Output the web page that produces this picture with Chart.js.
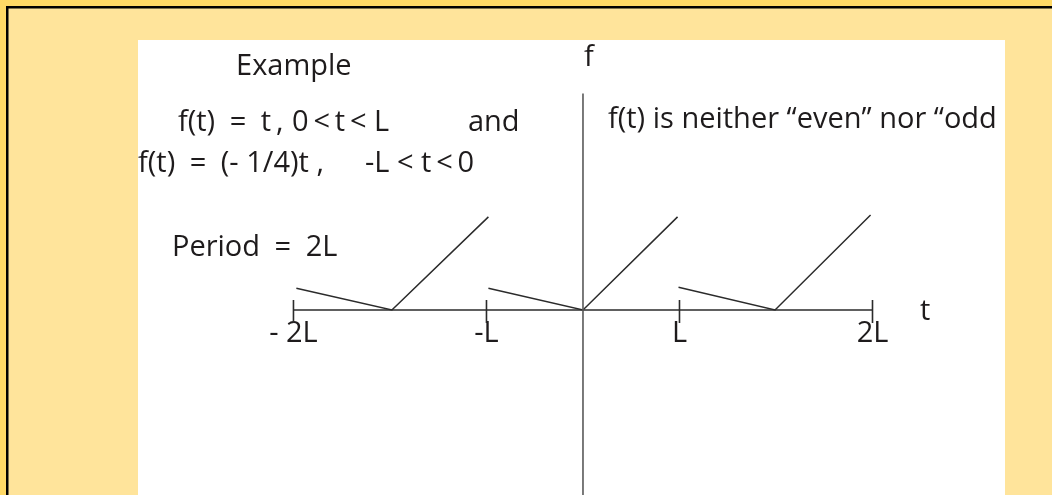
<!DOCTYPE html>
<html>
<head>
<meta charset="utf-8">
<script src="https://cdn.jsdelivr.net/npm/chart.js@4"></script>
<style>
  html, body { margin: 0; padding: 0; background: #ffe49b; }
  #wrap { width: 1052px; height: 495px; position: relative; }
</style>
</head>
<body>
<div id="wrap"><canvas id="chart"></canvas></div>
<script>
// x is in drawing units: the middle period runs -L..L = -1..1,
// the outer ticks (labelled +-2L in the picture) sit at +-3
const xTickValues = [-3, -1, 1, 3];
const xTickLabels = ['- 2L', '-L', 'L', '2L'];

// three copies of f(t), corners
const copyLeft   = [{x: -2.97, y: 0.23}, {x: -1.98, y: 0}, {x: -0.98, y: 0.98}];
const copyMiddle = [{x: -0.98, y: 0.23}, {x: 0, y: 0},     {x: 0.98, y: 0.98}];
const copyRight  = [{x: 0.99, y: 0.24},  {x: 1.99, y: 0},  {x: 2.98, y: 1.0}];

// axes
const tAxis = [{x: -3, y: 0}, {x: 3, y: 0}];
const fAxis = [{x: 0, y: 2.28}, {x: 0, y: -2.2}];

// text on the drawing (\u2002 = en space, \u2009 = thin space)
const notes = [
  {text: 'Example', x: -3.595, y: 2.474},
  {text: 'f(t)\u2002=\u2002t\u2009,', x: -4.197, y: 1.884},
  {text: '0\u2009<\u2009t\u2009< L', x: -3.015, y: 1.884},
  {text: 'and', x: -1.192, y: 1.884},
  {text: 'f(t)\u2002=\u2002(- 1/4)t ,', x: -4.611, y: 1.453},
  {text: '-L < t\u2009<\u20090', x: -2.26, y: 1.453},
  {text: 'Period\u2002=\u20022L', x: -4.259, y: 0.568},
  {text: 'f(t) is neither \u201ceven\u201d nor \u201codd', x: 0.259, y: 1.916},
  {text: 'f', x: 0.01, y: 2.568},
  {text: 't', x: 3.492, y: -0.105}
];

const INK = '#1e1b1c';
const FONT = '"Open Sans", "DejaVu Sans", sans-serif';
const TEXT_SIZE = 29;

// small vertical tick marks on the t axis
const tickMarks = [];
xTickValues.forEach(v => {
  tickMarks.push({x: v, y: 0.105}, {x: v, y: -0.137}, {x: v, y: null});
});

const pageDecor = {
  id: 'pageDecor',
  beforeDraw(chart) {
    const {ctx, width, height, chartArea} = chart;
    ctx.save();
    ctx.fillStyle = '#ffe49b';
    ctx.fillRect(0, 0, width, height);
    ctx.fillStyle = '#ffd966';
    ctx.fillRect(0, 0, width, 6);
    ctx.fillRect(0, 0, 6, height);
    ctx.fillStyle = '#000';
    ctx.fillRect(6, 6, width - 6, 2.5);
    ctx.fillRect(6, 6, 2.5, height - 6);
    ctx.fillStyle = '#ffffff';
    ctx.fillRect(chartArea.left, chartArea.top,
      chartArea.right - chartArea.left, chartArea.bottom - chartArea.top);
    ctx.restore();
  },
  afterDraw(chart) {
    const {ctx, scales, chartArea} = chart;
    ctx.save();
    // the reference cuts the text off at the edge of the white panel
    ctx.beginPath();
    ctx.rect(chartArea.left, chartArea.top - 20, chartArea.right - chartArea.left, chartArea.bottom - chartArea.top + 20);
    ctx.clip();
    ctx.fillStyle = INK;
    ctx.font = TEXT_SIZE + 'px ' + FONT;
    ctx.textAlign = 'left';
    ctx.textBaseline = 'alphabetic';
    notes.forEach(n => {
      ctx.fillText(n.text, scales.x.getPixelForValue(n.x), scales.y.getPixelForValue(n.y));
    });
    ctx.restore();
  }
};

function line(data, color, width) {
  return {
    data, showLine: true, borderColor: color, borderWidth: width,
    pointRadius: 0, pointHoverRadius: 0, spanGaps: false, fill: false, tension: 0
  };
}

function draw() {
  new Chart(document.getElementById('chart'), {
    type: 'scatter',
    data: {
      datasets: [
        line(fAxis, '#5a5a5a', 1.6),
        line(tAxis, '#2b2b2b', 1.6),
        line(tickMarks, '#2b2b2b', 1.6),
        line(copyLeft, '#2b2b2b', 1.5),
        line(copyMiddle, '#2b2b2b', 1.5),
        line(copyRight, '#2b2b2b', 1.5)
      ]
    },
    options: {
      responsive: true,
      maintainAspectRatio: false,
      animation: false,
      events: [],
      layout: { padding: { left: 138, top: 40, right: 47, bottom: 0 } },
      plugins: { legend: { display: false }, tooltip: { enabled: false } },
      scales: {
        x: {
          type: 'linear',
          position: { y: 0 },
          min: -4.611, max: 4.373,
          grid: { display: false, drawTicks: false },
          border: { display: false },
          afterBuildTicks: scale => { scale.ticks = xTickValues.map(v => ({ value: v })); },
          ticks: {
            autoSkip: false,
            maxRotation: 0,
            padding: 6,
            color: INK,
            font: { family: FONT, size: TEXT_SIZE },
            callback: value => xTickLabels[xTickValues.indexOf(value)]
          }
        },
        y: {
          type: 'linear',
          display: false,
          min: -1.947, max: 2.842
        }
      }
    },
    plugins: [pageDecor]
  });
}

if (document.fonts && document.fonts.load) {
  document.fonts.load(TEXT_SIZE + 'px "Open Sans"').then(draw, draw);
} else {
  draw();
}
</script>
</body>
</html>
